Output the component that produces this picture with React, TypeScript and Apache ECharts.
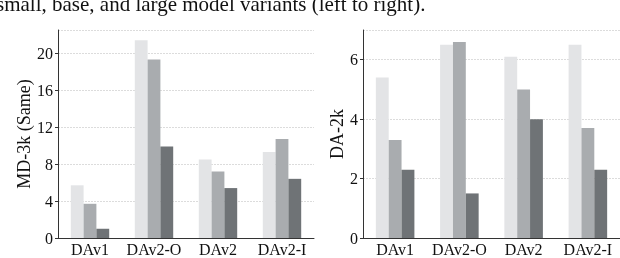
import React, { useEffect, useRef } from "react";
import * as echarts from "echarts";

const categories = ["DAv1", "DAv2-O", "DAv2", "DAv2-I"];
const md3kSmall = [5.7, 21.4, 8.5, 9.3];
const md3kBase = [3.7, 19.3, 7.2, 10.7];
const md3kLarge = [1.0, 9.9, 5.4, 6.4];
const da2kSmall = [5.4, 6.5, 6.1, 6.5];
const da2kBase = [3.3, 6.6, 5.0, 3.7];
const da2kLarge = [2.3, 1.5, 4.0, 2.3];
const caption = "small, base, and large model variants (left to right).";

const colors = ["#e3e4e6", "#a9acaf", "#6f7376"];
const serif = "'Liberation Serif', 'Times New Roman', serif";

export default function App() {
  const ref = useRef<HTMLDivElement>(null);
  useEffect(() => {
    if (!ref.current) return;
    const chart = echarts.init(ref.current, undefined, { renderer: "svg" });
    const xAxisBase = (gridIndex: number) => ({
      type: "category" as const,
      gridIndex,
      data: categories,
      axisLine: { lineStyle: { color: "#333", width: 1 } },
      axisTick: { alignWithLabel: true, length: 3, lineStyle: { color: "#333" } },
      axisLabel: { color: "#111", fontFamily: serif, fontSize: 16, margin: 3, interval: 0 },
    });
    const yAxisBase = (gridIndex: number, max: number, interval: number, name: string, nameGap: number) => ({
      type: "value" as const,
      gridIndex,
      min: 0,
      max,
      interval,
      name,
      nameLocation: "middle" as const,
      nameGap,
      nameTextStyle: { color: "#111", fontFamily: serif, fontSize: 18 },
      axisLine: { show: true, lineStyle: { color: "#333", width: 1 } },
      axisTick: { show: true, length: 3, lineStyle: { color: "#333" } },
      axisLabel: { color: "#111", fontFamily: serif, fontSize: 16, margin: 5, showMaxLabel: false },
      splitLine: { show: true, lineStyle: { color: "#dcdcdc", type: [2, 1] as any, width: 1 } },
    });
    const bar = (name: string, data: number[], idx: number, color: string) => ({
      type: "bar" as const,
      name,
      data,
      xAxisIndex: idx,
      yAxisIndex: idx,
      barGap: "0%",
      barCategoryGap: "40%",
      itemStyle: { color },
    });
    chart.setOption({
      animation: false,
      graphic: [
        {
          type: "text",
          left: -4,
          top: -7,
          style: { text: caption, font: `21px ${serif}`, fill: "#111" },
        },
      ],
      grid: [
        { left: 58, top: 30, width: 256, height: 208 },
        { left: 363, top: 30, width: 257, height: 208 },
      ],
      xAxis: [xAxisBase(0), xAxisBase(1)],
      yAxis: [
        yAxisBase(0, 22.5, 4, "MD-3k (Same)", 22),
        yAxisBase(1, 7, 2, "DA-2k", 14),
      ],
      series: [
        bar("small", md3kSmall, 0, colors[0]),
        bar("base", md3kBase, 0, colors[1]),
        bar("large", md3kLarge, 0, colors[2]),
        bar("small", da2kSmall, 1, colors[0]),
        bar("base", da2kBase, 1, colors[1]),
        bar("large", da2kLarge, 1, colors[2]),
      ],
    });
    return () => chart.dispose();
  }, []);
  return <div ref={ref} style={{ position: "fixed", left: 0, top: 0, width: 620, height: 258 }} />;
}
